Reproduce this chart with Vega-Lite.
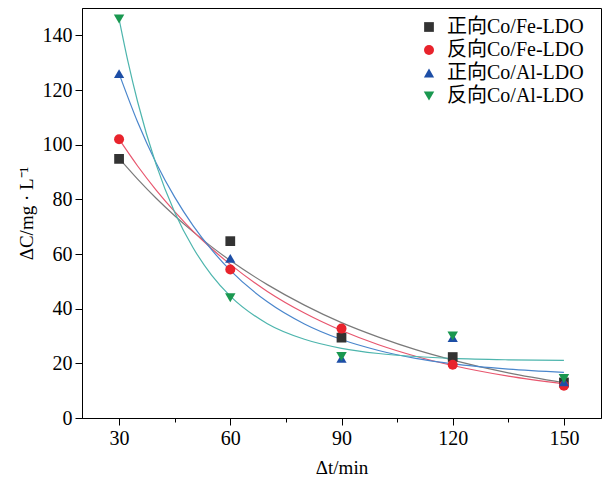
{
  "$schema": "https://vega.github.io/schema/vega-lite/v6.json",
  "width": 519,
  "height": 410,
  "autosize": {"type": "none"},
  "padding": {"left": 82, "top": 8, "right": 9, "bottom": 65},
  "background": "white",
  "config": {
    "font": "Liberation Serif",
    "view": {"stroke": "black", "strokeWidth": 1},
    "axis": {
      "grid": false,
      "domainColor": "black",
      "tickColor": "black",
      "labelColor": "black",
      "titleColor": "black",
      "labelFont": "Liberation Serif",
      "titleFont": "Liberation Serif",
      "labelFontSize": 20,
      "titleFontSize": 19,
      "titleFontWeight": "normal",
      "labelPadding": 3
    }
  },
  "datasets": {
    "points": [
      {"t": 30, "v": 94.8, "series": "正向Co/Fe-LDO"},
      {"t": 60, "v": 64.7, "series": "正向Co/Fe-LDO"},
      {"t": 90, "v": 29.4, "series": "正向Co/Fe-LDO"},
      {"t": 120, "v": 22.3, "series": "正向Co/Fe-LDO"},
      {"t": 150, "v": 13.0, "series": "正向Co/Fe-LDO"},
      {"t": 30, "v": 102, "series": "反向Co/Fe-LDO"},
      {"t": 60, "v": 54.3, "series": "反向Co/Fe-LDO"},
      {"t": 90, "v": 32.7, "series": "反向Co/Fe-LDO"},
      {"t": 120, "v": 19.5, "series": "反向Co/Fe-LDO"},
      {"t": 150, "v": 11.8, "series": "反向Co/Fe-LDO"},
      {"t": 30, "v": 126, "series": "正向Co/Al-LDO"},
      {"t": 60, "v": 58.4, "series": "正向Co/Al-LDO"},
      {"t": 90, "v": 21.8, "series": "正向Co/Al-LDO"},
      {"t": 120, "v": 29.4, "series": "正向Co/Al-LDO"},
      {"t": 150, "v": 13.2, "series": "正向Co/Al-LDO"},
      {"t": 30, "v": 146, "series": "反向Co/Al-LDO"},
      {"t": 60, "v": 44, "series": "反向Co/Al-LDO"},
      {"t": 90, "v": 22.5, "series": "反向Co/Al-LDO"},
      {"t": 120, "v": 30, "series": "反向Co/Al-LDO"},
      {"t": 150, "v": 14.4, "series": "反向Co/Al-LDO"}
    ],
    "curves": [
      {"t": 30, "v": 95, "fit": "a"},
      {"t": 35, "v": 87.4, "fit": "a"},
      {"t": 40, "v": 80.4, "fit": "a"},
      {"t": 45, "v": 74.0, "fit": "a"},
      {"t": 50, "v": 68.1, "fit": "a"},
      {"t": 55, "v": 62.6, "fit": "a"},
      {"t": 60, "v": 57.6, "fit": "a"},
      {"t": 70, "v": 48.8, "fit": "a"},
      {"t": 80, "v": 41.3, "fit": "a"},
      {"t": 90, "v": 34.9, "fit": "a"},
      {"t": 100, "v": 29.6, "fit": "a"},
      {"t": 110, "v": 25.0, "fit": "a"},
      {"t": 120, "v": 21.2, "fit": "a"},
      {"t": 135, "v": 16.5, "fit": "a"},
      {"t": 150, "v": 12.9, "fit": "a"},
      {"t": 30, "v": 102, "fit": "b"},
      {"t": 35, "v": 92.2, "fit": "b"},
      {"t": 40, "v": 83.4, "fit": "b"},
      {"t": 45, "v": 75.5, "fit": "b"},
      {"t": 50, "v": 68.3, "fit": "b"},
      {"t": 55, "v": 61.9, "fit": "b"},
      {"t": 60, "v": 56.2, "fit": "b"},
      {"t": 70, "v": 46.3, "fit": "b"},
      {"t": 80, "v": 38.4, "fit": "b"},
      {"t": 90, "v": 32.0, "fit": "b"},
      {"t": 100, "v": 26.8, "fit": "b"},
      {"t": 110, "v": 22.6, "fit": "b"},
      {"t": 120, "v": 19.2, "fit": "b"},
      {"t": 135, "v": 15.3, "fit": "b"},
      {"t": 150, "v": 12.5, "fit": "b"},
      {"t": 30, "v": 126, "fit": "c"},
      {"t": 35, "v": 108.3, "fit": "c"},
      {"t": 40, "v": 93.3, "fit": "c"},
      {"t": 45, "v": 80.8, "fit": "c"},
      {"t": 50, "v": 70.3, "fit": "c"},
      {"t": 55, "v": 61.5, "fit": "c"},
      {"t": 60, "v": 54.0, "fit": "c"},
      {"t": 70, "v": 42.5, "fit": "c"},
      {"t": 80, "v": 34.4, "fit": "c"},
      {"t": 90, "v": 28.7, "fit": "c"},
      {"t": 100, "v": 24.7, "fit": "c"},
      {"t": 110, "v": 21.8, "fit": "c"},
      {"t": 120, "v": 19.8, "fit": "c"},
      {"t": 135, "v": 17.9, "fit": "c"},
      {"t": 150, "v": 16.7, "fit": "c"},
      {"t": 30, "v": 146, "fit": "d"},
      {"t": 32.5, "v": 129.8, "fit": "d"},
      {"t": 35, "v": 115.7, "fit": "d"},
      {"t": 40, "v": 92.7, "fit": "d"},
      {"t": 45, "v": 75.3, "fit": "d"},
      {"t": 50, "v": 62.2, "fit": "d"},
      {"t": 55, "v": 52.2, "fit": "d"},
      {"t": 60, "v": 44.6, "fit": "d"},
      {"t": 70, "v": 34.5, "fit": "d"},
      {"t": 80, "v": 28.8, "fit": "d"},
      {"t": 90, "v": 25.5, "fit": "d"},
      {"t": 100, "v": 23.6, "fit": "d"},
      {"t": 110, "v": 22.5, "fit": "d"},
      {"t": 120, "v": 21.8, "fit": "d"},
      {"t": 135, "v": 21.3, "fit": "d"},
      {"t": 150, "v": 21.1, "fit": "d"}
    ]
  },
  "layer": [
    {
      "data": {"name": "curves"},
      "mark": {"type": "line", "interpolate": "monotone", "strokeWidth": 1.2},
      "encoding": {
        "x": {"field": "t", "type": "quantitative"},
        "y": {"field": "v", "type": "quantitative"},
        "stroke": {
          "field": "fit",
          "type": "nominal",
          "scale": {
            "domain": ["a", "b", "c", "d"],
            "range": ["#7a7a7a", "#e8566e", "#4a86cc", "#4db5ad"]
          },
          "legend": null
        }
      }
    },
    {
      "data": {"name": "points"},
      "mark": {"type": "point", "filled": true, "opacity": 1},
      "encoding": {
        "x": {
          "field": "t",
          "type": "quantitative",
          "scale": {"domain": [20, 160], "nice": false, "zero": false},
          "axis": {
            "title": "Δt/min",
            "values": [30, 45, 60, 75, 90, 105, 120, 135, 150],
            "labelExpr": "datum.value % 30 === 0 ? datum.label : ''",
            "tickSize": {"condition": {"test": "datum.value % 30 === 0", "value": 7}, "value": 4},
            "titlePadding": 10
          }
        },
        "y": {
          "field": "v",
          "type": "quantitative",
          "scale": {"domain": [0, 150], "nice": false},
          "axis": {
            "title": "ΔC/mg · L⁻¹",
            "values": [0, 10, 20, 30, 40, 50, 60, 70, 80, 90, 100, 110, 120, 130, 140, 150],
            "labelExpr": "datum.value % 20 === 0 ? datum.label : ''",
            "tickSize": {"condition": {"test": "datum.value % 20 === 0", "value": 7}, "value": 4},
            "titlePadding": 6
          }
        },
        "size": {
          "field": "series",
          "type": "nominal",
          "scale": {
            "domain": ["正向Co/Fe-LDO", "反向Co/Fe-LDO", "正向Co/Al-LDO", "反向Co/Al-LDO"],
            "range": [95, 110, 150, 150]
          },
          "legend": null
        },
        "color": {
          "field": "series",
          "type": "nominal",
          "scale": {
            "domain": ["正向Co/Fe-LDO", "反向Co/Fe-LDO", "正向Co/Al-LDO", "反向Co/Al-LDO"],
            "range": ["#333333", "#e8232c", "#1d4ea6", "#1a9850"]
          },
          "legend": {
            "title": null,
            "orient": "none",
            "legendX": 337,
            "legendY": 9,
            "padding": 0,
            "labelFont": "Liberation Serif, Noto Sans CJK SC",
            "labelFontSize": 20,
            "labelColor": "black",
            "labelOffset": 8,
            "rowPadding": 3,
            "symbolSize": 60
          }
        },
        "shape": {
          "field": "series",
          "type": "nominal",
          "scale": {
            "domain": ["正向Co/Fe-LDO", "反向Co/Fe-LDO", "正向Co/Al-LDO", "反向Co/Al-LDO"],
            "range": ["square", "circle", "triangle-up", "triangle-down"]
          }
        }
      }
    }
  ]
}
